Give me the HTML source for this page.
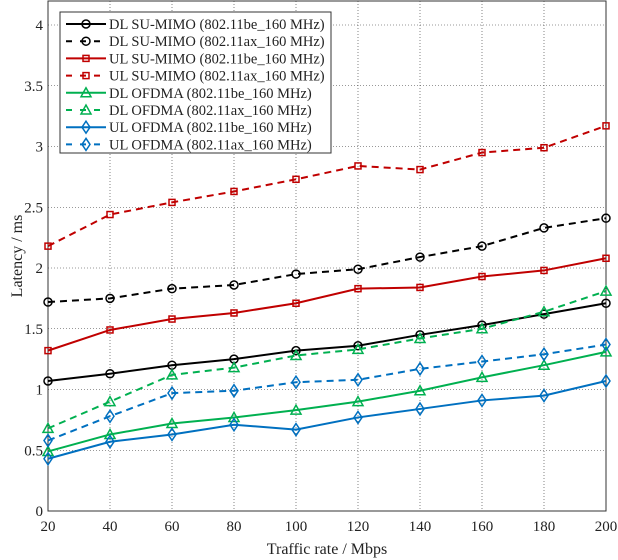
<!DOCTYPE html>
<html><head><meta charset="utf-8"><style>
body{margin:0;background:#fff}
svg{display:block;font-family:"Liberation Serif",serif}
</style></head><body>
<svg id="chart" width="618" height="560" xmlns="http://www.w3.org/2000/svg"></svg>
<script>
const categories=[20,40,60,80,100,120,140,160,180,200];
const yTicks=[0,0.5,1,1.5,2,2.5,3,3.5,4];
const yTickLabels=["0","0.5","1","1.5","2","2.5","3","3.5","4"];
const dlSuBe=[1.07,1.13,1.2,1.25,1.32,1.36,1.45,1.53,1.62,1.71];
const dlSuAx=[1.72,1.75,1.83,1.86,1.95,1.99,2.09,2.18,2.33,2.41];
const ulSuBe=[1.32,1.49,1.58,1.63,1.71,1.83,1.84,1.93,1.98,2.08];
const ulSuAx=[2.18,2.44,2.54,2.63,2.73,2.84,2.81,2.95,2.99,3.17];
const dlOfBe=[0.49,0.63,0.72,0.77,0.83,0.9,0.99,1.1,1.2,1.31];
const dlOfAx=[0.68,0.9,1.12,1.18,1.28,1.33,1.42,1.5,1.64,1.81];
const ulOfBe=[0.43,0.57,0.63,0.71,0.67,0.77,0.84,0.91,0.95,1.07];
const ulOfAx=[0.58,0.78,0.97,0.99,1.06,1.08,1.17,1.23,1.29,1.37];
const seriesNames=["DL SU-MIMO (802.11be_160 MHz)","DL SU-MIMO (802.11ax_160 MHz)","UL SU-MIMO (802.11be_160 MHz)","UL SU-MIMO (802.11ax_160 MHz)","DL OFDMA (802.11be_160 MHz)","DL OFDMA (802.11ax_160 MHz)","UL OFDMA (802.11be_160 MHz)","UL OFDMA (802.11ax_160 MHz)"];
const series=[dlSuBe,dlSuAx,ulSuBe,ulSuAx,dlOfBe,dlOfAx,ulOfBe,ulOfAx];
const colors=["#000","#000","#c00000","#c00000","#00b050","#00b050","#0070c0","#0070c0"];
const markers=["circle","circle","square","square","tri","tri","diamond","diamond"];
const L=48,R=606,T=1,B=511;
const x=v=>L+(v-20)/180*(R-L);
const y=v=>B-v*121.5;
const svg=document.getElementById('chart');
const NS="http://www.w3.org/2000/svg";
function mk(tag,at,parent){const e=document.createElementNS(NS,tag);for(const k in at)e.setAttribute(k,at[k]);(parent||svg).appendChild(e);return e;}
categories.forEach(c=>{const l=mk('line',{x1:x(c),x2:x(c),y1:T,y2:B,stroke:'#333','stroke-width':0.6,'stroke-dasharray':'1 2'});

});
yTicks.forEach(t=>{const l=mk('line',{x1:L,x2:R,y1:y(t),y2:y(t),stroke:'#333','stroke-width':0.6,'stroke-dasharray':'1 2'});

});
const frame=mk('rect',{x:L,y:T,width:R-L,height:B-T,fill:'none',stroke:'#333','stroke-width':1});


categories.forEach(c=>{const t=mk('text',{x:x(c),y:B+20,'font-size':15,'text-anchor':'middle',fill:'#222'});t.textContent=c;

});
yTicks.forEach((v,i)=>{const t=mk('text',{x:L-5,y:y(v)+5,'font-size':15,'text-anchor':'end',fill:'#222'});t.textContent=yTickLabels[i];

});
const xt=mk('text',{x:(L+R)/2,y:554,'font-size':16,'text-anchor':'middle',fill:'#222'});xt.textContent='Traffic rate / Mbps';


const yt=mk('text',{x:0,y:0,'font-size':16,'text-anchor':'middle',fill:'#222',transform:'translate(22,'+(B+T)/2+') rotate(-90)'});yt.textContent='Latency / ms';


function marker(type,cx,cy,col,g){
 if(type==='circle')return mk('circle',{cx,cy,r:4,fill:'none',stroke:col,'stroke-width':1.5},g);
 if(type==='square')return mk('rect',{x:cx-3,y:cy-3,width:6,height:6,fill:'none',stroke:col,'stroke-width':1.5},g);
 if(type==='tri')return mk('polygon',{points:`${cx},${cy-5} ${cx-5},${cy+4} ${cx+5},${cy+4}`,fill:'none',stroke:col,'stroke-width':1.5},g);
 return mk('polygon',{points:`${cx},${cy-6} ${cx-4},${cy} ${cx},${cy+6} ${cx+4},${cy}`,fill:'none',stroke:col,'stroke-width':1.5},g);
}
series.forEach((s,i)=>{
 const g=mk('g',{});
 
 
 const p=mk('polyline',{points:s.map((v,j)=>x(categories[j])+','+y(v)).join(' '),fill:'none',stroke:colors[i],'stroke-width':2,'stroke-dasharray':i%2?'7 5':'none'},g);
 
 
 s.forEach((v,j)=>{const m=marker(markers[i],x(categories[j]),y(v),colors[i],g);
 
 });
});
const lg=mk('g',{});


mk('rect',{x:60,y:12,width:271,height:141,fill:'#fff',stroke:'#333','stroke-width':1},lg);
seriesNames.forEach((n,i)=>{
 const yy=24+i*17.2;
 const e=mk('g',{},lg);
 
 
 mk('line',{x1:66,x2:106,y1:yy,y2:yy,stroke:colors[i],'stroke-width':2,'stroke-dasharray':i%2?'6 8':'none'},e);
 marker(markers[i],86,yy,colors[i],e);
 const t=mk('text',{x:109,y:yy+5,'font-size':14.5,fill:'#222'},e);t.textContent=n;
});
</script>
</body></html>
